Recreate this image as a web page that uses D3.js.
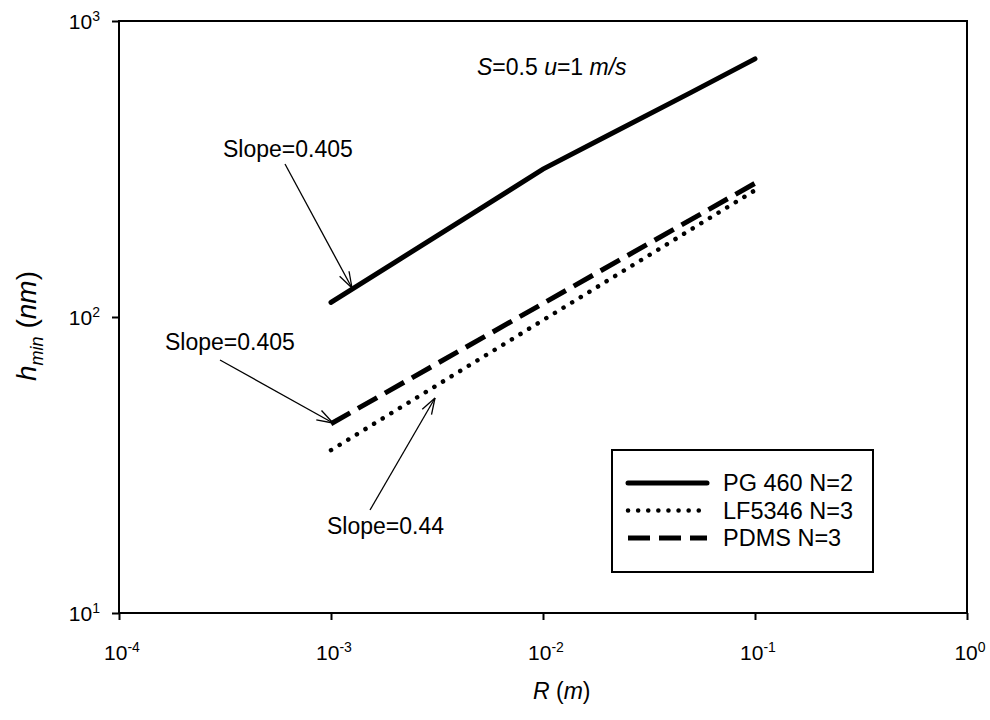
<!DOCTYPE html>
<html>
<head>
<meta charset="utf-8">
<script src="https://cdn.jsdelivr.net/npm/d3@7"></script>
<style>
  body { margin: 0; background: #fff; }
  text { font-family: "Liberation Sans", Arial, sans-serif; fill: #000; }
</style>
</head>
<body>
<script>
var width = 990;
var height = 720;

// radius R (m)
var rPG = [0.001, 0.002, 0.005, 0.01, 0.02, 0.05, 0.1];
var hPG = [112, 153, 231, 316, 409, 574, 745];
var rLF = [0.001, 0.1];
var hLF = [35.5, 268];
var rPDMS = [0.001, 0.1];
var hPDMS = [43.6, 283];

var seriesNames = ["PG 460 N=2", "LF5346 N=3", "PDMS N=3"];
var xTicks = [1e-4, 1e-3, 1e-2, 1e-1, 1];
var xExp = ["-4", "-3", "-2", "-1", "0"];
var yTicks = [10, 100, 1000];
var yExp = ["1", "2", "3"];

var svg = d3.select("body")
            .append("svg")
            .attr("width", width)
            .attr("height", height);

var x = d3.scaleLog().domain([1e-4, 1]).range([119, 967]);
var y = d3.scaleLog().domain([10, 1000]).range([613, 21]);

// frame
svg.append("rect")
  .attr("x", x(1e-4)).attr("y", y(1000))
  .attr("width", x(1) - x(1e-4)).attr("height", y(10) - y(1000))
  .attr("fill", "none").attr("stroke", "#000").attr("stroke-width", 2);

// axes
var xAxis = svg.append("g")
  .attr("transform", "translate(0," + y(10) + ")")
  .call(d3.axisBottom(x).tickValues(xTicks).tickSize(7).tickFormat(""));
xAxis.select(".domain").remove();
xAxis.selectAll("line").attr("stroke-width", 2);

var yAxis = svg.append("g")
  .attr("transform", "translate(" + x(1e-4) + ",0)")
  .call(d3.axisLeft(y).tickValues(yTicks).tickSize(7).tickFormat(""));
yAxis.select(".domain").remove();
yAxis.selectAll("line").attr("stroke-width", 2);

// tick labels
xTicks.forEach(function(v, i) {
  var t = svg.append("text")
    .attr("x", x(v) + 3).attr("y", 660)
    .attr("text-anchor", "middle")
    .attr("font-size", 21);
  t.append("tspan").text("10");
  t.append("tspan").attr("font-size", 14).attr("dy", -8).text(xExp[i]);
});
yTicks.forEach(function(v, i) {
  var t = svg.append("text")
    .attr("x", 100).attr("y", y(v) + 8)
    .attr("text-anchor", "end")
    .attr("font-size", 21);
  t.append("tspan").text("10");
  t.append("tspan").attr("font-size", 14).attr("dy", -8).text(yExp[i]);
});

// axis titles
var xt = svg.append("text")
  .attr("x", 533).attr("y", 699)
  .attr("font-size", 23);
xt.append("tspan").attr("font-style", "italic").text("R");
xt.append("tspan").text(" (");
xt.append("tspan").attr("font-style", "italic").text("m");
xt.append("tspan").text(")");

var yt = svg.append("text")
  .attr("transform", "translate(36,326) rotate(-90)")
  .attr("text-anchor", "middle")
  .attr("font-size", 28);
yt.append("tspan").attr("font-style", "italic").text("h");
yt.append("tspan").attr("font-style", "italic").attr("font-size", 18).attr("dy", 7).text("min");
yt.append("tspan").attr("dy", -7).text(" (");
yt.append("tspan").attr("font-style", "italic").text("nm");
yt.append("tspan").text(")");

// lines
var line = d3.line()
  .x(function(d) { return x(d[0]); })
  .y(function(d) { return y(d[1]); });

var styles = [
  { w: 5, dash: null, cap: "round" },
  { w: 4.5, dash: "0.1 10", cap: "round" },
  { w: 5, dash: "22 9", cap: "butt" }
];
var series = [
  d3.zip(rPG, hPG),
  d3.zip(rLF, hLF),
  d3.zip(rPDMS, hPDMS)
];

series.forEach(function(s, i) {
  svg.append("path")
    .datum(s)
    .attr("d", line)
    .attr("fill", "none")
    .attr("stroke", "#000")
    .attr("stroke-width", styles[i].w)
    .attr("stroke-linecap", styles[i].cap)
    .attr("stroke-dasharray", styles[i].dash);
});

// legend
svg.append("rect")
  .attr("x", 612).attr("y", 450).attr("width", 261).attr("height", 122)
  .attr("fill", "#fff").attr("stroke", "#000").attr("stroke-width", 2);
seriesNames.forEach(function(n, i) {
  var ly = 483 + i * 27.5;
  svg.append("line")
    .attr("x1", 628).attr("x2", 707).attr("y1", ly).attr("y2", ly)
    .attr("stroke", "#000")
    .attr("stroke-width", styles[i].w)
    .attr("stroke-linecap", styles[i].cap)
    .attr("stroke-dasharray", styles[i].dash);
  svg.append("text")
    .attr("x", 723).attr("y", ly + 8)
    .attr("font-size", 23.5)
    .text(n);
});

// condition label
var cond = svg.append("text")
  .attr("x", 477).attr("y", 75)
  .attr("font-size", 23);
cond.append("tspan").attr("font-style", "italic").text("S");
cond.append("tspan").text("=0.5 ");
cond.append("tspan").attr("font-style", "italic").text("u");
cond.append("tspan").text("=1 ");
cond.append("tspan").attr("font-style", "italic").text("m/s");

// slope annotations
var notes = [
  { text: "Slope=0.405", tx: 223, ty: 157, x1: 285, y1: 164, x2: 352, y2: 288 },
  { text: "Slope=0.405", tx: 165, ty: 350, x1: 220, y1: 360, x2: 333, y2: 423 },
  { text: "Slope=0.44", tx: 327, ty: 534, x1: 370, y1: 510, x2: 435, y2: 398 }
];
notes.forEach(function(a) {
  svg.append("text")
    .attr("x", a.tx).attr("y", a.ty)
    .attr("font-size", 23)
    .text(a.text);
  svg.append("line")
    .attr("x1", a.x1).attr("y1", a.y1).attr("x2", a.x2).attr("y2", a.y2)
    .attr("stroke", "#000").attr("stroke-width", 1.3);
  var ang = Math.atan2(a.y2 - a.y1, a.x2 - a.x1);
  var len = 17, spread = 0.32;
  [-spread, spread].forEach(function(s) {
    svg.append("line")
      .attr("x1", a.x2).attr("y1", a.y2)
      .attr("x2", a.x2 - len * Math.cos(ang + s))
      .attr("y2", a.y2 - len * Math.sin(ang + s))
      .attr("stroke", "#000").attr("stroke-width", 1.3);
  });
});
</script>
</body>
</html>
